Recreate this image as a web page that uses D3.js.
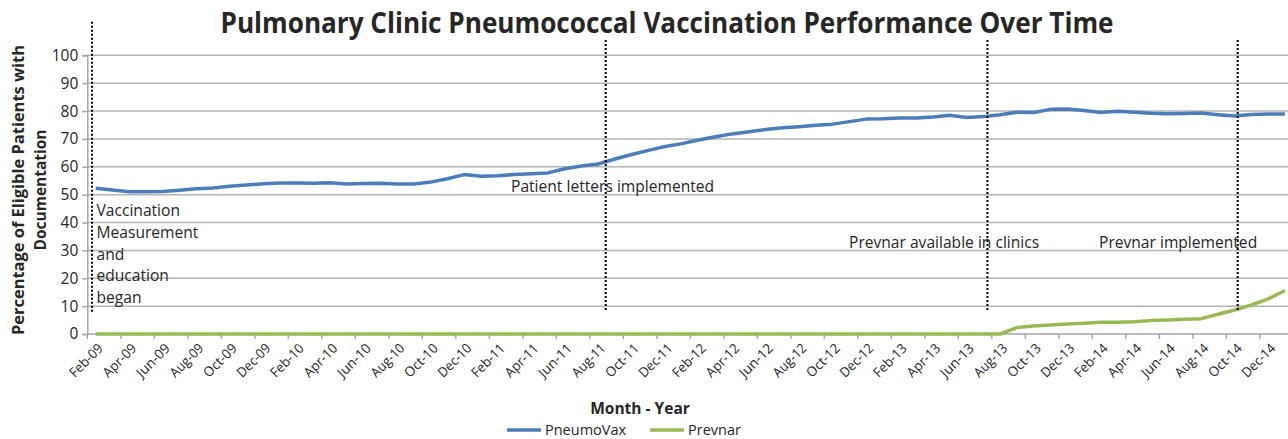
<!DOCTYPE html>
<html>
<head>
<meta charset="utf-8">
<script src="https://cdn.jsdelivr.net/npm/d3@7"></script>
<style>
  body { margin: 0; background: #fff; }
  text { font-family: "Open Sans", "Noto Sans", sans-serif; fill: #262626; }
</style>
</head>
<body>
<div id="chart-area"></div>
<script>

let width = 1288,
    height = 439;

// months Feb-09 .. Jan-15
let months = [
  "Feb-09","Mar-09","Apr-09","May-09","Jun-09","Jul-09","Aug-09","Sep-09","Oct-09","Nov-09","Dec-09",
  "Jan-10","Feb-10","Mar-10","Apr-10","May-10","Jun-10","Jul-10","Aug-10","Sep-10","Oct-10","Nov-10","Dec-10",
  "Jan-11","Feb-11","Mar-11","Apr-11","May-11","Jun-11","Jul-11","Aug-11","Sep-11","Oct-11","Nov-11","Dec-11",
  "Jan-12","Feb-12","Mar-12","Apr-12","May-12","Jun-12","Jul-12","Aug-12","Sep-12","Oct-12","Nov-12","Dec-12",
  "Jan-13","Feb-13","Mar-13","Apr-13","May-13","Jun-13","Jul-13","Aug-13","Sep-13","Oct-13","Nov-13","Dec-13",
  "Jan-14","Feb-14","Mar-14","Apr-14","May-14","Jun-14","Jul-14","Aug-14","Sep-14","Oct-14","Nov-14","Dec-14",
  "Jan-15"
];

let pneumovax = [
  52.3, 51.7, 51.0, 51.0, 51.1, 51.6, 52.1, 52.4, 53.0, 53.5, 53.9,
  54.2, 54.2, 54.1, 54.3, 53.8, 54.0, 54.1, 53.8, 53.8, 54.5, 55.7, 57.2,
  56.6, 56.8, 57.2, 57.5, 57.8, 59.3, 60.3, 61.0, 62.8, 64.4, 65.9, 67.3,
  68.3, 69.6, 70.8, 71.8, 72.6, 73.4, 74.0, 74.4, 74.9, 75.3, 76.2, 77.1,
  77.2, 77.5, 77.5, 77.9, 78.5, 77.7, 78.0, 78.7, 79.6, 79.5, 80.6, 80.7,
  80.2, 79.5, 79.9, 79.6, 79.2, 79.0, 79.1, 79.3, 78.7, 78.2, 78.8, 78.9,
  78.9
];

let prevnar = [
  0, 0, 0, 0, 0, 0, 0, 0, 0, 0, 0,
  0, 0, 0, 0, 0, 0, 0, 0, 0, 0, 0, 0,
  0, 0, 0, 0, 0, 0, 0, 0, 0, 0, 0, 0,
  0, 0, 0, 0, 0, 0, 0, 0, 0, 0, 0, 0,
  0, 0, 0, 0, 0, 0, 0, 0, 2.3, 2.9, 3.2, 3.6,
  3.9, 4.2, 4.2, 4.4, 4.8, 5.0, 5.3, 5.5, 7.1, 8.6, 10.4, 12.6,
  15.6
];

let yTicks = [0, 10, 20, 30, 40, 50, 60, 70, 80, 90, 100];

// event markers: position in months from Feb-09, top value, label lines
let eventPos = [-0.22, 30.45, 53.24, 68.18];
let eventTop = [112, 105.5, 105.5, 105.5];
let eventLabels = [
  ["Vaccination", "Measurement", "and", "education", "began"],
  ["Patient letters implemented"],
  ["Prevnar available in clinics"],
  ["Prevnar implemented"]
];

let svg = d3.select("#chart-area").append("svg")
    .attr("width", width)
    .attr("height", height);

let x = d3.scaleBand().domain(months).range([87.3, 87.3 + 16.75 * months.length]);
let y = d3.scaleLinear().domain([0, 100]).range([334, 55.3]);
let bw = x.bandwidth();
let xc = d => x(d) + bw / 2;
let xPos = m => x(months[0]) + bw / 2 + m * bw;

// gridlines
svg.append("g").selectAll("line")
  .data(yTicks.filter(d => d > 0))
  .enter().append("line")
  .attr("x1", x.range()[0]).attr("x2", x.range()[1])
  .attr("y1", d => y(d)).attr("y2", d => y(d))
  .attr("stroke", "#b3b3b3").attr("stroke-width", 1.5);

// y axis
let yAxis = svg.append("g")
  .attr("transform", "translate(" + x.range()[0] + ",0)")
  .call(d3.axisLeft(y).tickValues(yTicks).tickSize(5).tickPadding(4));
yAxis.select(".domain").attr("stroke", "#a6a6a6").attr("stroke-width", 1.5);
yAxis.selectAll(".tick line").attr("stroke", "#a6a6a6").attr("stroke-width", 1.5);
yAxis.selectAll(".tick text").style("font-size", "15.5px").attr("fill", "#262626");

// x axis
let labelMonths = months.filter((d, i) => i % 2 === 0 && i < 71);
svg.append("line")
  .attr("x1", x.range()[0]).attr("x2", x.range()[1])
  .attr("y1", y(0)).attr("y2", y(0))
  .attr("stroke", "#a6a6a6").attr("stroke-width", 1.5);
svg.append("g").selectAll("line")
  .data(months.filter((d, i) => i % 2 === 0))
  .enter().append("line")
  .attr("x1", d => x(d)).attr("x2", d => x(d))
  .attr("y1", y(0)).attr("y2", y(0) + 5)
  .attr("stroke", "#a6a6a6").attr("stroke-width", 1.5);

svg.append("g").selectAll("text")
  .data(labelMonths)
  .enter().append("text")
  .attr("transform", d => "translate(" + (xc(d) + 1) + "," + (y(0) + 8) + ") rotate(-45)")
  .attr("text-anchor", "end")
  .attr("dy", "0.75em")
  .style("font-size", "13.5px")
  .attr("textLength", 41)
  .attr("lengthAdjust", "spacingAndGlyphs")
  .text(d => d);

// series lines
let line = d3.line()
  .x((d, i) => xc(months[i]))
  .y(d => y(d));

svg.append("path")
  .datum(pneumovax)
  .attr("fill", "none")
  .attr("stroke", "#4a7ebb")
  .attr("stroke-width", 3.5)
  .attr("stroke-linejoin", "round")
  .attr("d", line);

svg.append("path")
  .datum(prevnar)
  .attr("fill", "none")
  .attr("stroke", "#98b954")
  .attr("stroke-width", 3.5)
  .attr("stroke-linejoin", "round")
  .attr("d", line);

// event markers
svg.append("g").selectAll("line")
  .data(eventPos)
  .enter().append("line")
  .attr("x1", d => xPos(d)).attr("x2", d => xPos(d))
  .attr("y1", (d, i) => y(eventTop[i])).attr("y2", y(7.9))
  .attr("stroke", "#000").attr("stroke-width", 2)
  .attr("stroke-dasharray", "2,2");

let labelAt = [
  { x: 96.5, y: 216 },
  { x: 511, y: 192 },
  { x: 849, y: 248 },
  { x: 1099, y: 248 }
];
eventLabels.forEach((lines, i) => {
  let t = svg.append("text")
    .attr("x", labelAt[i].x)
    .attr("y", labelAt[i].y)
    .style("font-size", "15.6px");
  lines.forEach((l, j) => {
    t.append("tspan").attr("x", labelAt[i].x).attr("dy", j === 0 ? 0 : 21.8).text(l);
  });
});

// title
svg.append("text")
  .attr("x", 667).attr("y", 33)
  .attr("text-anchor", "middle")
  .style("font-family", "'Liberation Sans Narrow', 'Open Sans', sans-serif")
  .style("font-size", "28px")
  .style("font-weight", "bold")
  .attr("fill", "#000")
  .attr("textLength", 893)
  .attr("lengthAdjust", "spacingAndGlyphs")
  .text("Pulmonary Clinic Pneumococcal Vaccination Performance Over Time");

// y axis title
let yt = svg.append("text")
  .attr("transform", "translate(24,190) rotate(-90)")
  .attr("text-anchor", "middle")
  .style("font-size", "15.5px")
  .style("font-weight", "bold");
yt.append("tspan").attr("x", 0).attr("dy", 0).attr("textLength", 290)
  .attr("lengthAdjust", "spacingAndGlyphs").text("Percentage of Eligible Patients with");
yt.append("tspan").attr("x", 0).attr("dy", 22).text("Documentation");

// x axis title
svg.append("text")
  .attr("x", 640).attr("y", 414)
  .attr("text-anchor", "middle")
  .style("font-size", "15.5px")
  .style("font-weight", "bold")
  .text("Month - Year");

// legend
let legend = [
  { name: "PneumoVax", color: "#4a7ebb", x: 507 },
  { name: "Prevnar", color: "#98b954", x: 650 }
];
legend.forEach(l => {
  svg.append("line")
    .attr("x1", l.x).attr("x2", l.x + 34)
    .attr("y1", 430).attr("y2", 430)
    .attr("stroke", l.color).attr("stroke-width", 3.5);
  svg.append("text")
    .attr("x", l.x + 38).attr("y", 435)
    .style("font-size", "14.5px")
    .text(l.name);
});

</script>
</body>
</html>
